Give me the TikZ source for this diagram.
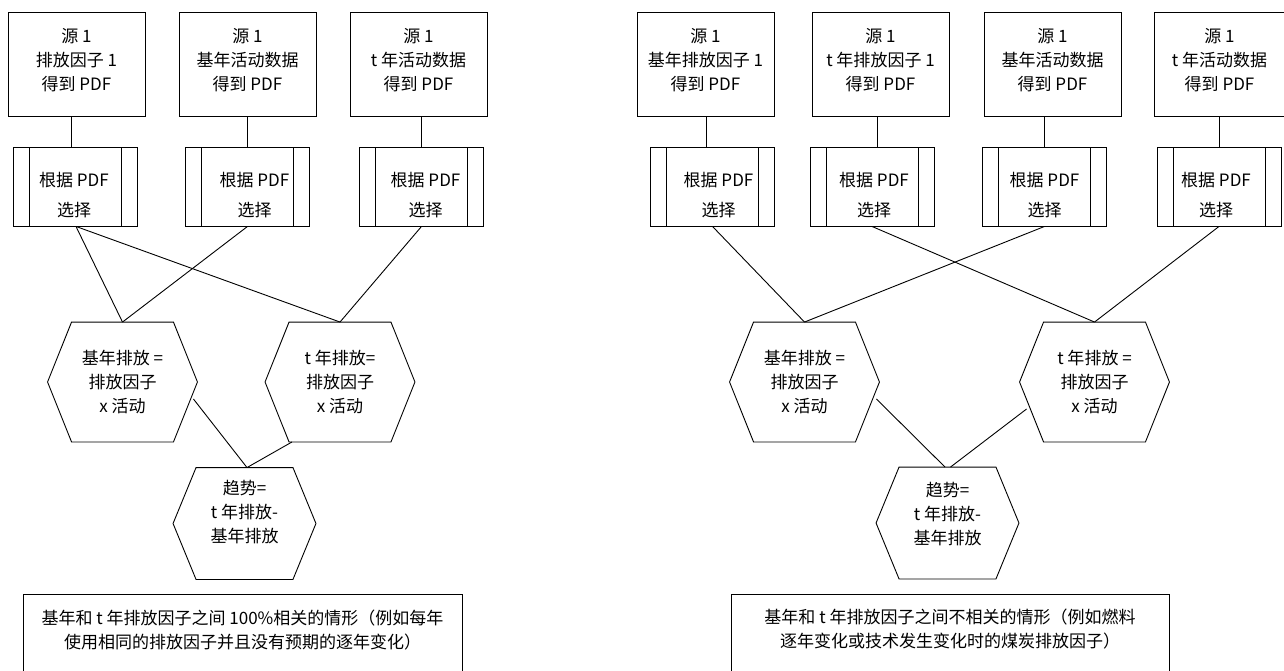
\documentclass[tikz,border=0pt]{standalone}
\usepackage{fontspec}
\setmainfont{Noto Sans CJK SC}
\usetikzlibrary{calc}
\begin{document}
\begin{tikzpicture}[x=1pt,y=-1pt, line width=0.9pt,
  font=\fontsize{17}{24}\selectfont,
  every label/.append style={align=center, inner sep=0pt},
  srcbox/.style={draw, rectangle, minimum width=137pt, minimum height=104pt, inner sep=0pt},
  procbox/.style={draw, rectangle, minimum width=124pt, minimum height=79pt, inner sep=0pt,
    path picture={
      \draw ([xshift=16pt]path picture bounding box.north west) -- ([xshift=16pt]path picture bounding box.south west);
      \draw ([xshift=-16pt]path picture bounding box.north east) -- ([xshift=-16pt]path picture bounding box.south east);}},
  proctext/.style={font=\fontsize{17}{30}\selectfont},
  hexbig/.style={rectangle, minimum width=149pt, minimum height=119pt, inner sep=0pt, align=center},
  hexsmall/.style={rectangle, minimum width=142pt, minimum height=111pt, inner sep=0pt},
  notebox/.style={draw, rectangle, inner sep=0pt, minimum height=106pt},
  link/.style={draw, line width=0.9pt}
]
\useasboundingbox (0,0) rectangle (1284,670);
\clip (0,0) rectangle (1284,670);

% ---------------- left panel ----------------
\node[srcbox, label={[yshift=4pt]center:源 1\\排放因子 1\\得到 PDF}] (lt1) at (76.5,64) {};
\node[srcbox, label={[yshift=4pt]center:源 1\\基年活动数据\\得到 PDF}] (lt2) at (247.5,64) {};
\node[srcbox, label={[yshift=4pt]center:源 1\\t 年活动数据\\得到 PDF}] (lt3) at (418.5,64) {};

\node[procbox, label={[proctext, yshift=-8.5pt, xshift=-1pt]center:根据 PDF\\选择}] (lp1) at (75,186.5) {};
\node[procbox, label={[proctext, yshift=-8.5pt, xshift=7pt]center:根据 PDF\\选择}] (lp2) at (247.5,186.5) {};
\node[procbox, label={[proctext, yshift=-8.5pt, xshift=4pt]center:根据 PDF\\选择}] (lp3) at (421.5,186.5) {};

\node[hexbig] (lh1) at (122.5,382) {基年排放 =\\排放因子\\x 活动};
\node[hexbig] (lh2) at (340,382) {t 年排放=\\排放因子\\x 活动};
\node[hexsmall, label={[yshift=11.5pt]center:趋势=\\t 年排放-\\基年排放}] (ltr) at (244.5,523.5) {};

\node[notebox, minimum width=439pt,
  label={[yshift=17pt]center:基年和 t 年排放因子之间 100\%相关的情形（例如每年\\使用相同的排放因子并且没有预期的逐年变化）}] (lnote) at (242.5,647) {};

% ---------------- right panel ----------------
\node[srcbox, label={[yshift=4pt]center:源 1\\基年排放因子 1\\得到 PDF}] (rt1) at (705.5,64) {};
\node[srcbox, label={[yshift=4pt]center:源 1\\t 年排放因子 1\\得到 PDF}] (rt2) at (880.5,64) {};
\node[srcbox, label={[yshift=4pt]center:源 1\\基年活动数据\\得到 PDF}] (rt3) at (1052.5,64) {};
\node[srcbox, label={[yshift=4pt, xshift=-3pt]center:源 1\\t 年活动数据\\得到 PDF}] (rt4) at (1222.5,64) {};

\node[procbox, label={[proctext, yshift=-8.5pt, xshift=6pt]center:根据 PDF\\选择}] (rp1) at (712.5,186.5) {};
\node[procbox, label={[proctext, yshift=-8.5pt, xshift=2pt]center:根据 PDF\\选择}] (rp2) at (872,186.5) {};
\node[procbox, label={[proctext, yshift=-8.5pt]center:根据 PDF\\选择}] (rp3) at (1044.5,186.5) {};
\node[procbox, label={[proctext, yshift=-8.5pt, xshift=-3pt]center:根据 PDF\\选择}] (rp4) at (1219,186.5) {};

\node[hexbig] (rh1) at (804.5,382) {基年排放 =\\排放因子\\x 活动};
\node[hexbig] (rh2) at (1094.5,382) {t 年排放 =\\排放因子\\x 活动};
\node[hexsmall, label={[yshift=9pt]center:趋势=\\t 年排放-\\基年排放}] (rtr) at (947.5,523) {};

\node[notebox, minimum width=438pt,
  label={[yshift=18pt]center:基年和 t 年排放因子之间不相关的情形（例如燃料\\逐年变化或技术发生变化时的煤炭排放因子）}] (rnote) at (950,647) {};

% ---------------- hexagon outlines ----------------
\foreach \n/\d in {lh1/24, lh2/24, rh1/24, rh2/24, ltr/23, rtr/23}
  \draw ([xshift=\d pt]\n.north west) -- ([xshift=-\d pt]\n.north east) -- (\n.east)
        -- ([xshift=-\d pt]\n.south east) -- ([xshift=\d pt]\n.south west) -- (\n.west) -- cycle;

% ---------------- connectors, left ----------------
\path[link] ([xshift=-4pt]lp1.north) -- ([xshift=-4pt]lp1.north |- lt1.south);
\path[link] (lp2.north) -- (lp2.north |- lt2.south);
\path[link] (lp3.north) -- (lp3.north |- lt3.south);
\path[link] ([xshift=1pt]lp1.south) -- (lh1.north);
\path[link] ([xshift=1pt]lp1.south) -- (lh2.north);
\path[link] (lp2.south) -- (lh1.north);
\path[link] (lp3.south) -- (lh2.north);
\path[link] ([shift={(-4,17)}]lh1.east) -- ([xshift=2.5pt]ltr.north);
\path[link] ([xshift=-48pt]lh2.south) -- ([xshift=2.5pt]ltr.north);

% ---------------- connectors, right ----------------
\path[link] ([xshift=-6.5pt]rp1.north) -- ([xshift=-6.5pt]rp1.north |- rt1.south);
\path[link] ([xshift=5pt]rp2.north) -- ([xshift=5pt]rp2.north |- rt2.south);
\path[link] (rp3.north) -- (rp3.north |- rt3.south);
\path[link] (rp4.north) -- (rp4.north |- rt4.south);
\path[link] (rp1.south) -- (rh1.north);
\path[link] (rp2.south) -- (rh2.north);
\path[link] (rp3.south) -- (rh1.north);
\path[link] (rp4.south) -- (rh2.north);
\path[link] ([shift={(-3,17)}]rh1.east) -- ([xshift=-2.5pt]rtr.north);
\path[link] ([shift={(7,27)}]rh2.west) -- ([xshift=3pt]rtr.north);
\end{tikzpicture}
\end{document}
